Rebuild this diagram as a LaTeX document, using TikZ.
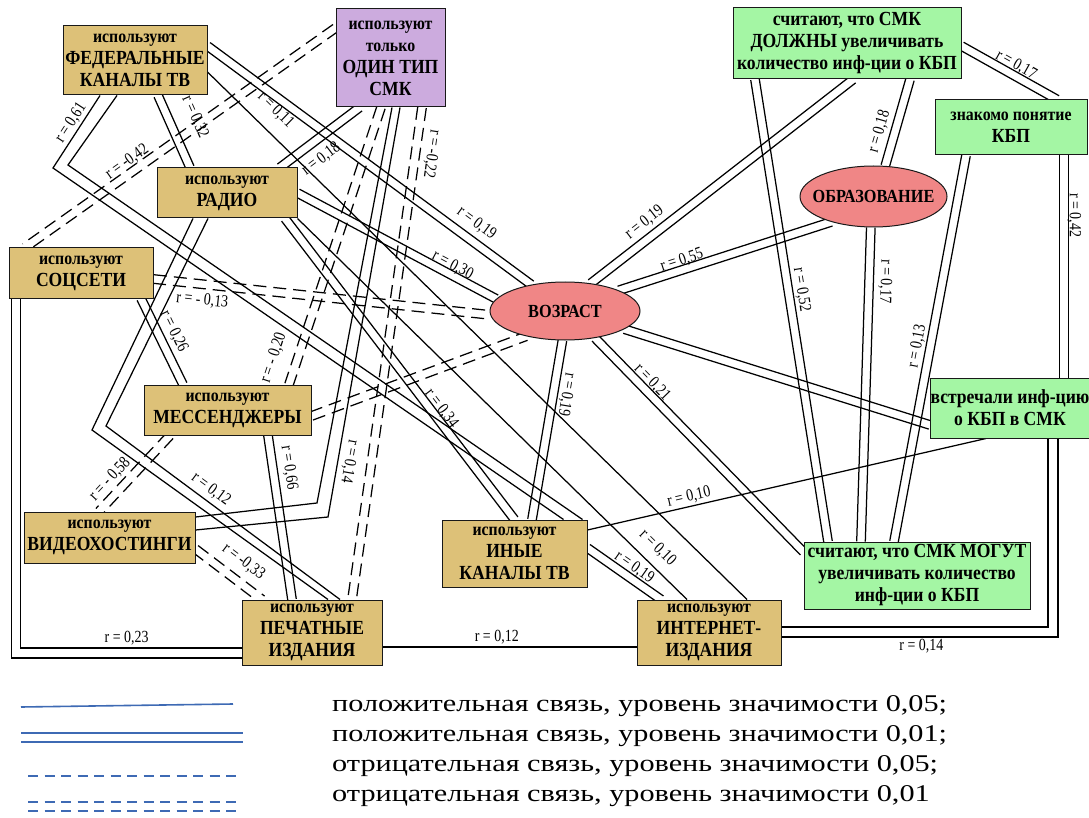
\documentclass[tikz,border=0pt]{standalone}
\usepackage{fontspec}
\setmainfont{Liberation Serif}
\newfontfamily\boxfont[FakeStretch=0.88]{Liberation Serif}
\newfontfamily\lblfont[FakeStretch=0.82]{Liberation Serif}
\newfontfamily\legfont[FakeStretch=1.26]{Liberation Serif}
\usetikzlibrary{calc, shapes.geometric, backgrounds}

\definecolor{mediatan}{RGB}{221,193,120}
\definecolor{onlyviolet}{RGB}{204,171,222}
\definecolor{kbpgreen}{RGB}{164,246,164}
\definecolor{factorpink}{RGB}{240,134,134}
\definecolor{legendblue}{RGB}{62,106,180}

\newcommand{\smtxt}{\fontsize{18}{22}\selectfont}
\newcommand{\bgtxt}{\fontsize{20}{22}\selectfont}
\newcommand{\pairgap}{4.3pt}
% double connector: two parallel lines between two points
\newcommand{\twin}[4][link]{%
  \draw[#1] ($(#2)!\pairgap!90:(#3)$) -- ($(#3)!\pairgap!-90:(#2)$);
  \draw[#1] ($(#2)!\pairgap!-90:(#3)$) -- ($(#3)!\pairgap!90:(#2)$);
  \path (#2) -- (#3) #4;}

\tikzset{
  media/.style={draw=black!90, line width=1pt, fill=mediatan, align=center,
    inner sep=0pt, font=\boxfont\bfseries\bgtxt},
  attitude/.style={media, fill=kbpgreen},
  factor/.style={ellipse, draw=black!90, line width=1pt, fill=factorpink,
    inner sep=0pt, font=\boxfont\bfseries\fontsize{18.5}{20}\selectfont},
  link/.style={line width=1.25pt},
  neglink/.style={link, dash pattern=on 13pt off 7pt},
  lbl/.style={font=\lblfont\fontsize{17}{18}\selectfont, inner sep=1pt},
  legtext/.style={font=\legfont\fontsize{24}{28}\selectfont, inner sep=0pt, anchor=west},
  legline/.style={legendblue, line width=1.6pt},
}

\begin{document}
\begin{tikzpicture}[x=1pt, y=-1pt]
\useasboundingbox (0,0) rectangle (1089,818);

% media use
\node[media, minimum width=144pt, minimum height=69pt] (fed) at (135,60.5)
  {{\smtxt используют}\\ФЕДЕРАЛЬНЫЕ\\КАНАЛЫ ТВ};
\node[media, fill=onlyviolet, minimum width=109pt, minimum height=98pt] (one) at (390.5,58)
  {{\smtxt используют}\\{\smtxt только}\\ОДИН ТИП\\СМК};
\node[media, minimum width=140pt, minimum height=50pt] (radio) at (227,193)
  {{\smtxt используют}\\РАДИО};
\node[media, minimum width=144pt, minimum height=50pt] (soc) at (81,273)
  {{\smtxt используют}\\СОЦСЕТИ};
\node[media, minimum width=167pt, minimum height=50pt] (mess) at (227.5,410)
  {{\smtxt используют}\\МЕССЕНДЖЕРЫ};
\node[media, minimum width=171pt, minimum height=51pt] (video) at (109.5,537.5)
  {{\smtxt используют}\\ВИДЕОХОСТИНГИ};
\node[media, minimum width=140pt, minimum height=65pt] (print) at (312,632.5)
  {{\smtxt используют}\\ПЕЧАТНЫЕ\\ИЗДАНИЯ};
\node[media, minimum width=145pt, minimum height=67pt] (inoe) at (514.5,553.5)
  {{\smtxt используют}\\ИНЫЕ\\КАНАЛЫ ТВ};
\node[media, minimum width=144pt, minimum height=65pt] (inet) at (709,632.5)
  {{\smtxt используют}\\ИНТЕРНЕТ-\\ИЗДАНИЯ};

% socio-demographic factors
\node[factor, minimum width=150pt, minimum height=58pt] (age) at (565,311) {\makebox[0pt]{ВОЗРАСТ}};
\node[factor, minimum width=147pt, minimum height=61pt] (edu) at (873.5,196.5) {\makebox[0pt]{ОБРАЗОВАНИЕ}};

% attitudes
\node[attitude, minimum width=228pt, minimum height=71pt] (must) at (847,43.5)
  {считают, что СМК\\ДОЛЖНЫ увеличивать\\количество инф-ции о КБП};
\node[attitude, minimum width=152pt, minimum height=55pt] (know) at (1011,127.5)
  {{\smtxt знакомо понятие}\\КБП};
\node[attitude, minimum width=154pt, minimum height=60pt] (vstr) at (1010,408)
  {встречали инф-цию\\о КБП в СМК};
\node[attitude, minimum width=226pt, minimum height=67pt] (mogut) at (917,575.5)
  {считают, что СМК МОГУТ\\увеличивать количество\\инф-ции о КБП};

% bend points
\coordinate (fbendA) at (53,168);
\coordinate (fbendB) at (68,165);
\coordinate (rbendA) at (92,430);
\coordinate (rbendB) at (106,426);
\coordinate (obendA) at (328,517);
\coordinate (obendB) at (317,503);

% legend
\node[legtext] (legA) at (332,706) {положительная связь, уровень значимости 0,05;};
\node[legtext] (legB) at (332,736) {положительная связь, уровень значимости 0,01;};
\node[legtext] (legC) at (332,766) {отрицательная связь, уровень значимости 0,05;};
\node[legtext] (legD) at (332,796) {отрицательная связь, уровень значимости 0,01};

\begin{scope}[on background layer]
  \fill[white] (0,0) rectangle (1089,818);

  % federal TV
  \twin{[yshift=14.5pt]fed.east}{age.142}{node[lbl, sloped, pos=.8, above=9pt] {r = 0,19}};
  \draw[link] ([yshift=-11.5pt]fed.east) -- ([xshift=38pt]inet.north)
    node[lbl, sloped, pos=.1, above=12pt] {r = 0,11};
  \twin{[xshift=23pt]fed.south}{[xshift=-37pt]radio.north}{node[lbl, sloped, pos=.44, above=17pt] {r = 0,32}};
  \draw[link] ([xshift=-35pt]fed.south) -- (fbendA)
    node[lbl, sloped, pos=.45, above=1pt] {r = 0,61} -- ([xshift=-24pt]inoe.north east);
  \draw[link] ([xshift=-18pt]fed.south) -- (fbendB) -- ([xshift=-5pt]inoe.north east);

  % radio
  \twin{[xshift=53pt]radio.north}{[xshift=24pt]one.south west}{node[lbl, sloped, pos=.38, below=10pt] {r = 0,18}};
  \twin{radio.east}{age.170}{node[lbl, sloped, pos=.76, above=1pt] {r = 0,30}};
  \twin{[xshift=58pt]radio.south}{inoe.north}{node[lbl, sloped, pos=.65, above=1pt] {r = 0,34}};
  \draw[link] (radio.south east) -- ([xshift=-22pt]inet.north)
    node[lbl, sloped, pos=.895, above=8pt] {r = 0,10};
  \draw[link] ([xshift=-34pt]radio.south) -- (rbendA) -- ([xshift=16pt]print.north);
  \draw[link] ([xshift=-19pt]radio.south) -- (rbendB) -- ([xshift=28pt]print.north)
    node[lbl, sloped, pos=.42, above=3pt] {r = 0,12};

  % only one type of media
  \twin[neglink]{[yshift=30pt]one.west}{[xshift=-56pt]soc.north}{node[lbl, sloped, pos=.65, above=3pt] {r = -0,42}};
  \twin[neglink]{[xshift=-9.5pt]one.south}{[xshift=61.5pt]mess.north}{node[lbl, sloped, pos=.93, above=15pt] {r = - 0,20}};
  \draw[link] ([xshift=9.5pt]one.south) -- (obendA)
    node[lbl, sloped, allow upside down, pos=.86, above=3pt] {r = 0,14} -- ([yshift=7.5pt]video.east);
  \draw[link] ([xshift=1.5pt]one.south) -- (obendB) -- ([yshift=20.5pt]video.east);
  \twin[neglink]{[xshift=31.5pt]one.south}{[xshift=40pt]print.north}{node[lbl, sloped, allow upside down, pos=.09, above=8pt] {r = -0,22}};

  % social networks
  \twin[neglink]{[yshift=-6pt]soc.east}{age.183}{node[lbl, sloped, pos=.15, below=8pt] {r = - 0,13}};
  \twin{[xshift=60pt]soc.south}{[xshift=-44.5pt]mess.north}{node[lbl, sloped, pos=.46, above=7pt] {r = 0,26}};
  \draw[link] ([xshift=3pt]soc.south west) |- ([yshift=-25.5pt]print.west);
  \draw[link] ([xshift=12pt]soc.south west) |- node[lbl, pos=.74, above=1pt] {r = 0,23} ([yshift=-15.5pt]print.west);

  % messengers, video, print
  \twin[neglink]{[yshift=-6pt]mess.east}{age.213}{};
  \twin[neglink]{[xshift=-57.5pt]mess.south}{[xshift=-10.5pt]video.north}{node[lbl, sloped, pos=.7, above=6pt] {r = - 0,58}};
  \twin{[xshift=40.5pt]mess.south}{[xshift=-20pt]print.north}{node[lbl, sloped, pos=.21, above=8pt] {r = 0,66}};
  \twin[neglink]{[yshift=-11.5pt]video.east}{[xshift=-50pt]print.north}{node[lbl, sloped, pos=.55, above=11pt] {r = -0,33}};
  \draw[link] ([yshift=-14.5pt]print.east) -- node[lbl, pos=.45, above=1pt] {r = 0,12} ([yshift=-14.5pt]inet.west);

  % age
  \twin{age.265}{[xshift=17.5pt]inoe.north}{node[lbl, sloped, allow upside down, pos=.29, above=5pt] {r = 0,19}};
  \twin{age.318}{[yshift=23.5pt]mogut.west}{node[lbl, sloped, pos=.24, above=2pt] {r = 0,21}};
  \twin{age.343}{[yshift=-17pt]vstr.west}{};
  \twin{age.21}{edu.211}{node[lbl, sloped, pos=.31, above=1pt] {r = 0,55}};
  \twin{age.47}{[xshift=6pt]must.south}{node[lbl, sloped, pos=.24, above=7pt] {r = 0,19}};

  % attitudes
  \twin{[xshift=-92pt]must.south}{[xshift=-89pt]mogut.north}{node[lbl, sloped, pos=.46, above=5pt] {r = 0,52}};
  \twin{[xshift=63pt]must.south}{edu.69}{node[lbl, sloped, pos=.65, above=7pt] {r = 0,18}};
  \twin{edu.265}{[xshift=-56pt]mogut.north}{node[lbl, sloped, allow upside down, pos=.17, above=8pt] {r = 0,17}};
  \twin{[xshift=-45pt]know.south}{[xshift=-23pt]mogut.north}{node[lbl, sloped, pos=.5, above=5pt] {r = 0,13}};
  \twin{[xshift=53pt]know.south}{[xshift=54pt]vstr.north}{node[lbl, sloped, allow upside down, pos=.27, above=2pt] {r = 0,42}};
  \twin{[yshift=-2.5pt]must.east}{[xshift=46pt]know.north}{node[lbl, sloped, pos=.52, above=2pt] {r = 0,17}};
  \draw[link] ([xshift=48pt]vstr.south) |- node[lbl, pos=.747, below=1pt] {r = 0,14} ([yshift=-4.5pt]inet.east);
  \draw[link] ([xshift=38pt]vstr.south) |- ([yshift=5.5pt]inet.east);
  \draw[link] ([yshift=23.5pt]inoe.east) -- ([xshift=-24pt]vstr.south)
    node[lbl, sloped, pos=.26, above=1pt] {r = 0,10};
  \twin{[yshift=5.5pt]inoe.east}{[xshift=-48pt]inet.north}{node[lbl, sloped, pos=.55, above=3pt] {r = 0,19}};
\end{scope}

% legend samples
\draw[legline] ([xshift=-311pt, yshift=-1pt]legA.west) -- ([xshift=-99pt, yshift=2pt]legA.west);
\draw[legline] ([xshift=-311pt, yshift=3pt]legB.west) -- ([xshift=-89pt, yshift=3pt]legB.west);
\draw[legline] ([xshift=-311pt, yshift=-6pt]legB.west) -- ([xshift=-89pt, yshift=-6pt]legB.west);
\draw[legline, dash pattern=on 10pt off 6.5pt] ([xshift=-304pt, yshift=-10pt]legC.west) -- ([xshift=-92pt, yshift=-10pt]legC.west);
\draw[legline, dash pattern=on 10pt off 6.5pt] ([xshift=-304pt, yshift=-6pt]legD.west) -- ([xshift=-92pt, yshift=-6pt]legD.west);
\draw[legline, dash pattern=on 10pt off 6.5pt] ([xshift=-304pt, yshift=-15pt]legD.west) -- ([xshift=-92pt, yshift=-15pt]legD.west);
\end{tikzpicture}
\end{document}
